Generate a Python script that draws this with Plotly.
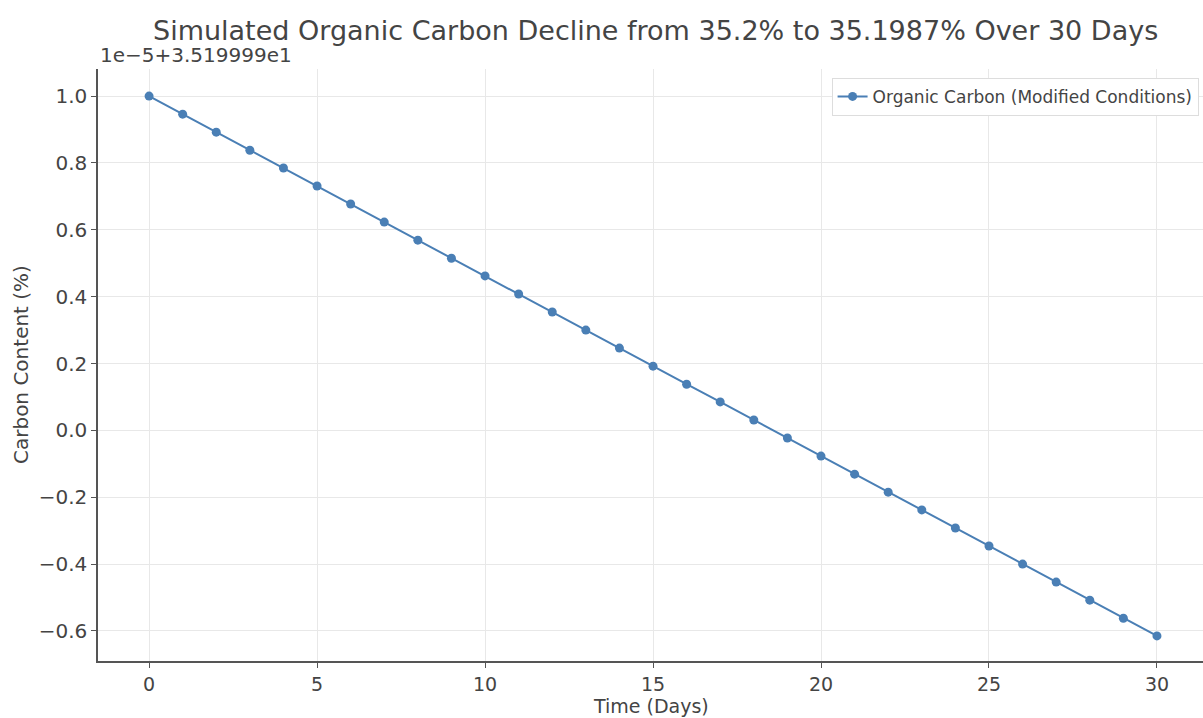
import plotly.graph_objects as go

days = list(range(31))
# carbon content offset values (units of 1e-5, offset +35.19999)
carbon_offset = [1.000, 0.946, 0.892, 0.838, 0.785, 0.731, 0.677, 0.623, 0.569, 0.515,
                 0.462, 0.408, 0.354, 0.300, 0.246, 0.192, 0.138, 0.085, 0.031, -0.023,
                 -0.077, -0.131, -0.185, -0.238, -0.292, -0.346, -0.400, -0.454, -0.508,
                 -0.562, -0.615]
y_ticks = [-0.6, -0.4, -0.2, 0.0, 0.2, 0.4, 0.6, 0.8, 1.0]
x_ticks = [0, 5, 10, 15, 20, 25, 30]

font = "DejaVu Sans"
txt = "#444444"
fig = go.Figure()
fig.add_trace(go.Scatter(
    x=days, y=carbon_offset, mode="lines+markers",
    name="Organic Carbon (Modified Conditions)",
    line=dict(color="#4a7fb5", width=2),
    marker=dict(color="#4a7fb5", size=9),
))
fig.update_layout(
    width=1203, height=718,
    margin=dict(l=98, r=0, t=69, b=57, autoexpand=False),
    paper_bgcolor="white", plot_bgcolor="white",
    font=dict(family=font, color=txt, size=20),
    title=dict(text="Simulated Organic Carbon Decline from 35.2% to 35.1987% Over 30 Days",
               x=0.545, xanchor="center", y=0.958, yanchor="middle",
               font=dict(size=27, color=txt, family=font)),
    showlegend=True,
    legend=dict(x=0.996, xanchor="right", y=0.985, yanchor="top",
                bgcolor="white", bordercolor="#dddddd", borderwidth=1,
                font=dict(size=17, color=txt, family=font)),
    xaxis=dict(range=[-1.52, 31.37], tickvals=x_ticks, ticktext=[str(t) for t in x_ticks],
               showgrid=True, gridcolor="#e8e8e8", gridwidth=1, zeroline=False,
               showline=True, linecolor="#555555", linewidth=1.5,
               ticks="outside", ticklen=5, tickcolor="#555555", automargin=False,
               tickfont=dict(size=19, color=txt)),
    yaxis=dict(range=[-0.69, 1.081], tickvals=y_ticks,
               ticktext=[f"{t:.1f}".replace("-", "−") for t in y_ticks],
               showgrid=True, gridcolor="#e8e8e8", gridwidth=1, zeroline=False,
               showline=True, linecolor="#555555", linewidth=1.5,
               ticks="outside", ticklen=5, tickcolor="#555555", automargin=False,
               tickfont=dict(size=20, color=txt)),
)
fig.add_annotation(text="1e−5+3.519999e1", xref="paper", yref="paper",
                   x=0, y=1.0, xanchor="left", yanchor="bottom", yshift=0,
                   showarrow=False, font=dict(size=20, color=txt, family=font))
fig.add_annotation(text="Time (Days)", xref="paper", yref="paper",
                   x=0.5, y=0, xanchor="center", yanchor="middle", yshift=-45,
                   showarrow=False, font=dict(size=19, color=txt, family=font))
fig.add_annotation(text="Carbon Content (%)", xref="paper", yref="paper",
                   x=0, y=0.5, xanchor="center", yanchor="middle", xshift=-77, textangle=-90,
                   showarrow=False, font=dict(size=20, color=txt, family=font))
fig.write_html("out.html", post_script="document.body.style.margin='0';",
               config={"displayModeBar": False})
